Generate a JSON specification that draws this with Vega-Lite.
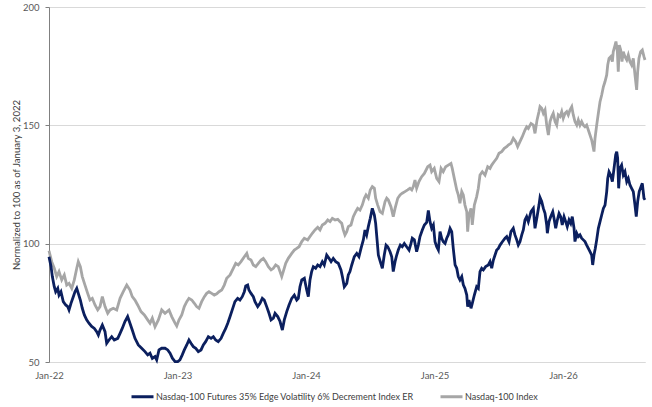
{
  "$schema": "https://vega.github.io/schema/vega-lite/v6.json",
  "width": 596,
  "height": 355,
  "autosize": "none",
  "padding": {"left": 49, "top": 7, "right": 7, "bottom": 45},
  "background": "white",
  "config": {"font": "Lato", "view": {"stroke": null}},
  "datasets": {
    "edge": [
      {"year":2022.000,"value":94.5},{"year":2022.016,"value":90.3},{"year":2022.026,"value":86.1},{"year":2022.041,"value":81.8},{"year":2022.052,"value":79.7},{"year":2022.068,"value":81.1},{"year":2022.078,"value":78.3},{"year":2022.093,"value":79.7},{"year":2022.111,"value":75.5},{"year":2022.130,"value":74.1},{"year":2022.146,"value":73.4},{"year":2022.156,"value":72.0},{"year":2022.171,"value":74.8},{"year":2022.189,"value":77.6},{"year":2022.202,"value":79.7},{"year":2022.216,"value":81.1},{"year":2022.228,"value":79.0},{"year":2022.244,"value":76.2},{"year":2022.259,"value":72.7},{"year":2022.275,"value":69.9},{"year":2022.293,"value":67.8},{"year":2022.311,"value":66.4},{"year":2022.332,"value":65.0},{"year":2022.353,"value":64.2},{"year":2022.371,"value":62.8},{"year":2022.384,"value":61.4},{"year":2022.397,"value":63.5},{"year":2022.415,"value":65.6},{"year":2022.436,"value":62.8},{"year":2022.449,"value":57.9},{"year":2022.467,"value":59.3},{"year":2022.488,"value":60.7},{"year":2022.508,"value":59.3},{"year":2022.535,"value":60.0},{"year":2022.553,"value":62.1},{"year":2022.570,"value":64.2},{"year":2022.591,"value":67.1},{"year":2022.612,"value":69.2},{"year":2022.630,"value":66.4},{"year":2022.648,"value":63.5},{"year":2022.669,"value":60.0},{"year":2022.695,"value":57.2},{"year":2022.721,"value":55.8},{"year":2022.747,"value":54.4},{"year":2022.768,"value":53.0},{"year":2022.786,"value":53.7},{"year":2022.804,"value":51.5},{"year":2022.825,"value":52.3},{"year":2022.838,"value":50.9},{"year":2022.856,"value":55.1},{"year":2022.877,"value":55.8},{"year":2022.903,"value":55.8},{"year":2022.924,"value":55.1},{"year":2022.942,"value":53.7},{"year":2022.960,"value":51.6},{"year":2022.981,"value":50.2},
      {"year":2023.002,"value":50.2},{"year":2023.019,"value":50.9},{"year":2023.037,"value":53.0},{"year":2023.053,"value":55.1},{"year":2023.072,"value":57.2},{"year":2023.089,"value":59.3},{"year":2023.105,"value":57.9},{"year":2023.123,"value":56.5},{"year":2023.142,"value":55.8},{"year":2023.162,"value":54.4},{"year":2023.183,"value":55.1},{"year":2023.201,"value":57.2},{"year":2023.219,"value":58.6},{"year":2023.240,"value":60.7},{"year":2023.261,"value":60.0},{"year":2023.279,"value":60.7},{"year":2023.297,"value":59.3},{"year":2023.317,"value":58.6},{"year":2023.339,"value":60.0},{"year":2023.356,"value":62.1},{"year":2023.375,"value":64.2},{"year":2023.391,"value":66.4},{"year":2023.409,"value":69.2},{"year":2023.426,"value":72.0},{"year":2023.447,"value":75.5},{"year":2023.468,"value":76.9},{"year":2023.486,"value":76.2},{"year":2023.504,"value":77.6},{"year":2023.520,"value":79.7},{"year":2023.531,"value":82.1},{"year":2023.546,"value":82.5},{"year":2023.556,"value":80.4},{"year":2023.572,"value":79.0},{"year":2023.590,"value":77.6},{"year":2023.603,"value":75.5},{"year":2023.624,"value":73.4},{"year":2023.642,"value":74.8},{"year":2023.660,"value":76.9},{"year":2023.675,"value":76.2},{"year":2023.694,"value":73.4},{"year":2023.712,"value":70.6},{"year":2023.728,"value":67.8},{"year":2023.746,"value":68.5},{"year":2023.759,"value":70.6},{"year":2023.780,"value":69.2},{"year":2023.798,"value":67.1},{"year":2023.816,"value":63.5},{"year":2023.831,"value":67.8},{"year":2023.850,"value":71.3},{"year":2023.868,"value":74.1},{"year":2023.889,"value":76.9},{"year":2023.909,"value":78.3},{"year":2023.928,"value":76.2},{"year":2023.940,"value":76.9},{"year":2023.953,"value":81.8},{"year":2023.967,"value":84.7},{"year":2023.987,"value":85.4},
      {"year":2024.005,"value":80.5},{"year":2024.018,"value":77.6},{"year":2024.031,"value":84.7},{"year":2024.044,"value":88.2},{"year":2024.057,"value":90.3},{"year":2024.075,"value":89.6},{"year":2024.091,"value":91.0},{"year":2024.109,"value":90.3},{"year":2024.127,"value":92.4},{"year":2024.142,"value":91.0},{"year":2024.161,"value":95.2},{"year":2024.179,"value":93.8},{"year":2024.195,"value":92.4},{"year":2024.212,"value":93.8},{"year":2024.231,"value":92.4},{"year":2024.251,"value":91.7},{"year":2024.272,"value":88.9},{"year":2024.283,"value":86.1},{"year":2024.298,"value":81.8},{"year":2024.317,"value":83.2},{"year":2024.329,"value":86.8},{"year":2024.342,"value":88.2},{"year":2024.356,"value":91.0},{"year":2024.376,"value":94.5},{"year":2024.395,"value":95.9},{"year":2024.412,"value":94.5},{"year":2024.428,"value":98.0},{"year":2024.446,"value":101.6},{"year":2024.459,"value":105.8},{"year":2024.472,"value":103.7},{"year":2024.485,"value":107.2},{"year":2024.500,"value":110.7},{"year":2024.516,"value":114.9},{"year":2024.532,"value":112.1},{"year":2024.542,"value":108.6},{"year":2024.553,"value":101.6},{"year":2024.563,"value":95.2},{"year":2024.578,"value":92.4},{"year":2024.594,"value":89.6},{"year":2024.609,"value":95.2},{"year":2024.623,"value":99.4},{"year":2024.636,"value":98.7},{"year":2024.654,"value":96.6},{"year":2024.667,"value":94.5},{"year":2024.679,"value":88.2},{"year":2024.693,"value":92.4},{"year":2024.706,"value":95.2},{"year":2024.718,"value":97.3},{"year":2024.734,"value":99.4},{"year":2024.749,"value":98.7},{"year":2024.765,"value":100.1},{"year":2024.783,"value":98.7},{"year":2024.802,"value":97.3},{"year":2024.817,"value":100.1},{"year":2024.827,"value":102.3},{"year":2024.843,"value":101.6},{"year":2024.861,"value":96.6},{"year":2024.874,"value":99.4},{"year":2024.887,"value":103.0},{"year":2024.905,"value":105.8},{"year":2024.921,"value":107.9},{"year":2024.939,"value":109.0},{"year":2024.952,"value":114.0},{"year":2024.965,"value":109.3},{"year":2024.978,"value":106.5},{"year":2024.991,"value":107.9},
      {"year":2025.004,"value":100.8},{"year":2025.017,"value":98.7},{"year":2025.030,"value":97.3},{"year":2025.043,"value":105.1},{"year":2025.056,"value":102.3},{"year":2025.068,"value":100.8},{"year":2025.082,"value":100.1},{"year":2025.095,"value":102.3},{"year":2025.107,"value":103.7},{"year":2025.121,"value":106.5},{"year":2025.134,"value":105.1},{"year":2025.146,"value":98.0},{"year":2025.160,"value":91.0},{"year":2025.173,"value":89.6},{"year":2025.185,"value":86.1},{"year":2025.198,"value":84.7},{"year":2025.212,"value":86.1},{"year":2025.224,"value":82.6},{"year":2025.237,"value":81.1},{"year":2025.251,"value":78.3},{"year":2025.258,"value":73.4},{"year":2025.268,"value":76.2},{"year":2025.284,"value":72.7},{"year":2025.294,"value":74.8},{"year":2025.310,"value":78.3},{"year":2025.328,"value":81.8},{"year":2025.341,"value":81.1},{"year":2025.354,"value":88.2},{"year":2025.367,"value":89.6},{"year":2025.380,"value":88.9},{"year":2025.398,"value":90.3},{"year":2025.419,"value":91.0},{"year":2025.432,"value":92.4},{"year":2025.445,"value":89.6},{"year":2025.458,"value":93.1},{"year":2025.471,"value":95.2},{"year":2025.484,"value":97.3},{"year":2025.497,"value":98.0},{"year":2025.510,"value":99.4},{"year":2025.528,"value":100.8},{"year":2025.549,"value":102.3},{"year":2025.562,"value":103.0},{"year":2025.580,"value":100.8},{"year":2025.595,"value":105.1},{"year":2025.613,"value":106.5},{"year":2025.626,"value":103.7},{"year":2025.640,"value":101.6},{"year":2025.652,"value":99.4},{"year":2025.665,"value":100.8},{"year":2025.679,"value":103.7},{"year":2025.691,"value":105.8},{"year":2025.704,"value":110.0},{"year":2025.717,"value":111.4},{"year":2025.730,"value":109.3},{"year":2025.751,"value":113.5},{"year":2025.769,"value":114.9},{"year":2025.782,"value":106.5},{"year":2025.798,"value":111.4},{"year":2025.813,"value":116.3},{"year":2025.821,"value":119.5},{"year":2025.834,"value":117.8},{"year":2025.847,"value":114.9},{"year":2025.860,"value":112.8},{"year":2025.873,"value":107.9},{"year":2025.878,"value":104.4},{"year":2025.891,"value":109.3},{"year":2025.904,"value":111.4},{"year":2025.920,"value":113.5},{"year":2025.930,"value":110.7},{"year":2025.943,"value":106.5},{"year":2025.956,"value":110.0},{"year":2025.969,"value":112.8},{"year":2025.982,"value":111.4},{"year":2025.994,"value":107.9},
      {"year":2026.008,"value":111.4},{"year":2026.021,"value":109.3},{"year":2026.033,"value":107.2},{"year":2026.047,"value":110.0},{"year":2026.060,"value":108.6},{"year":2026.072,"value":111.4},{"year":2026.086,"value":106.5},{"year":2026.093,"value":100.9},{"year":2026.107,"value":104.4},{"year":2026.119,"value":103.0},{"year":2026.132,"value":103.7},{"year":2026.145,"value":102.3},{"year":2026.158,"value":101.6},{"year":2026.171,"value":100.9},{"year":2026.184,"value":99.4},{"year":2026.197,"value":98.0},{"year":2026.210,"value":96.6},{"year":2026.223,"value":95.2},{"year":2026.231,"value":91.0},{"year":2026.241,"value":95.2},{"year":2026.251,"value":98.0},{"year":2026.262,"value":101.6},{"year":2026.275,"value":106.5},{"year":2026.288,"value":109.3},{"year":2026.301,"value":112.1},{"year":2026.314,"value":114.9},{"year":2026.327,"value":116.3},{"year":2026.340,"value":122.0},{"year":2026.348,"value":127.6},{"year":2026.358,"value":130.4},{"year":2026.371,"value":129.0},{"year":2026.384,"value":126.2},{"year":2026.397,"value":131.8},{"year":2026.410,"value":137.5},{"year":2026.418,"value":138.9},{"year":2026.425,"value":136.1},{"year":2026.433,"value":123.4},{"year":2026.443,"value":131.8},{"year":2026.456,"value":133.2},{"year":2026.469,"value":129.0},{"year":2026.482,"value":130.4},{"year":2026.496,"value":126.2},{"year":2026.508,"value":127.6},{"year":2026.521,"value":124.8},{"year":2026.534,"value":123.4},{"year":2026.547,"value":122.0},{"year":2026.560,"value":116.3},{"year":2026.570,"value":111.4},{"year":2026.581,"value":117.8},{"year":2026.593,"value":122.0},{"year":2026.607,"value":124.1},{"year":2026.617,"value":125.5},{"year":2026.630,"value":119.2},{"year":2026.638,"value":118.5}
    ],
    "ndx": [
      {"year":2022.000,"value":97.0},{"year":2022.021,"value":92.4},{"year":2022.041,"value":89.6},{"year":2022.060,"value":86.1},{"year":2022.078,"value":88.2},{"year":2022.099,"value":84.7},{"year":2022.119,"value":86.8},{"year":2022.138,"value":82.5},{"year":2022.156,"value":83.2},{"year":2022.177,"value":81.1},{"year":2022.197,"value":84.7},{"year":2022.216,"value":89.6},{"year":2022.228,"value":92.4},{"year":2022.244,"value":90.3},{"year":2022.259,"value":86.1},{"year":2022.280,"value":82.5},{"year":2022.301,"value":79.0},{"year":2022.319,"value":76.2},{"year":2022.337,"value":76.9},{"year":2022.358,"value":74.1},{"year":2022.379,"value":72.0},{"year":2022.397,"value":73.4},{"year":2022.415,"value":77.6},{"year":2022.436,"value":73.4},{"year":2022.457,"value":70.6},{"year":2022.475,"value":72.0},{"year":2022.500,"value":72.7},{"year":2022.527,"value":72.0},{"year":2022.553,"value":76.9},{"year":2022.578,"value":79.7},{"year":2022.605,"value":82.5},{"year":2022.630,"value":80.4},{"year":2022.648,"value":77.6},{"year":2022.669,"value":76.2},{"year":2022.690,"value":74.1},{"year":2022.716,"value":71.3},{"year":2022.742,"value":69.9},{"year":2022.768,"value":67.8},{"year":2022.786,"value":66.4},{"year":2022.804,"value":68.5},{"year":2022.825,"value":64.9},{"year":2022.851,"value":67.8},{"year":2022.877,"value":72.0},{"year":2022.903,"value":70.6},{"year":2022.934,"value":72.0},{"year":2022.955,"value":69.2},{"year":2022.981,"value":66.4},{"year":2022.994,"value":65.2},
      {"year":2023.012,"value":67.8},{"year":2023.033,"value":69.9},{"year":2023.053,"value":73.4},{"year":2023.072,"value":75.5},{"year":2023.089,"value":76.9},{"year":2023.111,"value":76.2},{"year":2023.131,"value":74.8},{"year":2023.149,"value":73.4},{"year":2023.167,"value":72.7},{"year":2023.188,"value":75.5},{"year":2023.209,"value":77.6},{"year":2023.227,"value":79.0},{"year":2023.245,"value":79.7},{"year":2023.266,"value":79.0},{"year":2023.286,"value":78.3},{"year":2023.305,"value":78.8},{"year":2023.323,"value":79.7},{"year":2023.344,"value":80.4},{"year":2023.364,"value":82.5},{"year":2023.383,"value":85.4},{"year":2023.409,"value":86.8},{"year":2023.434,"value":89.6},{"year":2023.453,"value":91.7},{"year":2023.473,"value":91.0},{"year":2023.494,"value":92.4},{"year":2023.520,"value":94.5},{"year":2023.539,"value":95.9},{"year":2023.551,"value":93.8},{"year":2023.572,"value":93.1},{"year":2023.590,"value":91.0},{"year":2023.609,"value":90.3},{"year":2023.629,"value":91.7},{"year":2023.650,"value":93.1},{"year":2023.668,"value":93.8},{"year":2023.686,"value":92.4},{"year":2023.707,"value":90.3},{"year":2023.728,"value":88.9},{"year":2023.746,"value":89.6},{"year":2023.764,"value":91.0},{"year":2023.784,"value":90.3},{"year":2023.811,"value":86.1},{"year":2023.823,"value":88.2},{"year":2023.842,"value":91.7},{"year":2023.862,"value":93.8},{"year":2023.889,"value":95.9},{"year":2023.909,"value":97.3},{"year":2023.928,"value":98.0},{"year":2023.946,"value":98.7},{"year":2023.967,"value":100.9},{"year":2023.987,"value":102.3},
      {"year":2024.013,"value":101.6},{"year":2024.031,"value":103.0},{"year":2024.049,"value":104.4},{"year":2024.070,"value":105.8},{"year":2024.091,"value":106.9},{"year":2024.109,"value":105.8},{"year":2024.127,"value":107.9},{"year":2024.148,"value":108.6},{"year":2024.169,"value":110.0},{"year":2024.187,"value":109.3},{"year":2024.205,"value":110.7},{"year":2024.226,"value":110.0},{"year":2024.247,"value":110.3},{"year":2024.265,"value":109.3},{"year":2024.278,"value":108.6},{"year":2024.290,"value":105.8},{"year":2024.303,"value":103.7},{"year":2024.317,"value":105.1},{"year":2024.329,"value":107.2},{"year":2024.350,"value":107.9},{"year":2024.368,"value":111.4},{"year":2024.387,"value":113.5},{"year":2024.402,"value":114.9},{"year":2024.420,"value":114.2},{"year":2024.438,"value":116.3},{"year":2024.454,"value":119.2},{"year":2024.467,"value":120.6},{"year":2024.485,"value":119.2},{"year":2024.500,"value":122.7},{"year":2024.516,"value":124.1},{"year":2024.532,"value":123.4},{"year":2024.542,"value":119.2},{"year":2024.558,"value":116.3},{"year":2024.576,"value":113.5},{"year":2024.594,"value":112.8},{"year":2024.615,"value":117.7},{"year":2024.628,"value":119.2},{"year":2024.640,"value":118.5},{"year":2024.661,"value":115.6},{"year":2024.679,"value":111.4},{"year":2024.693,"value":114.9},{"year":2024.714,"value":119.2},{"year":2024.732,"value":120.6},{"year":2024.749,"value":121.3},{"year":2024.770,"value":122.0},{"year":2024.791,"value":122.7},{"year":2024.809,"value":123.4},{"year":2024.823,"value":122.7},{"year":2024.835,"value":124.1},{"year":2024.848,"value":126.9},{"year":2024.861,"value":123.4},{"year":2024.879,"value":126.2},{"year":2024.900,"value":128.3},{"year":2024.921,"value":129.7},{"year":2024.947,"value":132.5},{"year":2024.965,"value":133.2},{"year":2024.978,"value":130.4},{"year":2024.998,"value":131.8},
      {"year":2025.017,"value":127.6},{"year":2025.035,"value":126.2},{"year":2025.051,"value":131.8},{"year":2025.068,"value":130.4},{"year":2025.087,"value":132.5},{"year":2025.107,"value":133.2},{"year":2025.128,"value":133.9},{"year":2025.138,"value":131.8},{"year":2025.154,"value":127.6},{"year":2025.173,"value":122.7},{"year":2025.185,"value":120.6},{"year":2025.198,"value":117.1},{"year":2025.212,"value":122.0},{"year":2025.224,"value":120.6},{"year":2025.237,"value":116.3},{"year":2025.251,"value":113.5},{"year":2025.258,"value":105.1},{"year":2025.268,"value":112.1},{"year":2025.284,"value":114.9},{"year":2025.294,"value":107.9},{"year":2025.310,"value":116.3},{"year":2025.328,"value":119.9},{"year":2025.341,"value":123.4},{"year":2025.354,"value":129.0},{"year":2025.372,"value":130.4},{"year":2025.393,"value":129.0},{"year":2025.414,"value":132.5},{"year":2025.432,"value":131.8},{"year":2025.445,"value":133.2},{"year":2025.465,"value":134.7},{"year":2025.484,"value":136.1},{"year":2025.502,"value":138.2},{"year":2025.523,"value":138.9},{"year":2025.543,"value":140.3},{"year":2025.562,"value":141.0},{"year":2025.574,"value":141.7},{"year":2025.595,"value":142.4},{"year":2025.613,"value":144.5},{"year":2025.632,"value":143.1},{"year":2025.647,"value":141.0},{"year":2025.665,"value":143.1},{"year":2025.683,"value":145.2},{"year":2025.704,"value":148.0},{"year":2025.717,"value":149.4},{"year":2025.730,"value":148.7},{"year":2025.751,"value":150.8},{"year":2025.769,"value":150.1},{"year":2025.782,"value":146.6},{"year":2025.798,"value":152.3},{"year":2025.813,"value":155.8},{"year":2025.821,"value":157.9},{"year":2025.834,"value":157.2},{"year":2025.847,"value":155.1},{"year":2025.860,"value":156.5},{"year":2025.873,"value":150.1},{"year":2025.886,"value":145.9},{"year":2025.899,"value":151.6},{"year":2025.912,"value":153.7},{"year":2025.924,"value":155.1},{"year":2025.938,"value":151.6},{"year":2025.951,"value":150.1},{"year":2025.963,"value":154.4},{"year":2025.977,"value":153.7},{"year":2025.990,"value":155.8},
      {"year":2026.002,"value":153.0},{"year":2026.016,"value":155.1},{"year":2026.029,"value":155.8},{"year":2026.041,"value":154.4},{"year":2026.054,"value":156.5},{"year":2026.068,"value":157.9},{"year":2026.080,"value":154.4},{"year":2026.093,"value":151.6},{"year":2026.107,"value":150.1},{"year":2026.119,"value":152.3},{"year":2026.132,"value":150.1},{"year":2026.145,"value":151.6},{"year":2026.158,"value":150.1},{"year":2026.171,"value":149.4},{"year":2026.184,"value":150.1},{"year":2026.197,"value":148.0},{"year":2026.210,"value":145.9},{"year":2026.223,"value":143.8},{"year":2026.231,"value":141.7},{"year":2026.241,"value":138.9},{"year":2026.249,"value":144.5},{"year":2026.262,"value":150.1},{"year":2026.275,"value":155.1},{"year":2026.288,"value":160.0},{"year":2026.301,"value":162.8},{"year":2026.314,"value":166.3},{"year":2026.327,"value":168.5},{"year":2026.340,"value":171.3},{"year":2026.348,"value":175.5},{"year":2026.358,"value":178.3},{"year":2026.371,"value":179.0},{"year":2026.384,"value":176.9},{"year":2026.391,"value":181.1},{"year":2026.405,"value":183.9},{"year":2026.412,"value":185.4},{"year":2026.423,"value":181.1},{"year":2026.430,"value":172.7},{"year":2026.438,"value":183.9},{"year":2026.449,"value":181.8},{"year":2026.459,"value":176.9},{"year":2026.469,"value":181.1},{"year":2026.482,"value":179.0},{"year":2026.496,"value":177.6},{"year":2026.508,"value":179.7},{"year":2026.521,"value":176.9},{"year":2026.534,"value":175.5},{"year":2026.547,"value":178.3},{"year":2026.560,"value":171.3},{"year":2026.573,"value":165.0},{"year":2026.581,"value":172.7},{"year":2026.591,"value":178.3},{"year":2026.604,"value":181.1},{"year":2026.617,"value":181.8},{"year":2026.630,"value":179.0},{"year":2026.638,"value":177.6}
    ]
  },
  "encoding": {
    "x": {
      "field": "year",
      "type": "quantitative",
      "scale": {"domain": [2022, 2026.638], "nice": false, "zero": false},
      "axis": {
        "values": [2022, 2023, 2024, 2025, 2026],
        "labelExpr": "'Jan-' + substring(toString(datum.value), 2, 4)",
        "title": null,
        "grid": false,
        "ticks": false,
        "domainColor": "#d9d9d9",
        "labelColor": "#595959",
        "labelFontSize": 9.5,
        "labelPadding": 8,
        "labelFlush": false
      }
    },
    "y": {
      "field": "value",
      "type": "quantitative",
      "scale": {"domain": [50, 200], "nice": false, "zero": false},
      "axis": {
        "values": [50, 100, 150, 200],
        "title": "Normalized to 100 as of January 3, 2022",
        "grid": true,
        "gridColor": "#d9d9d9",
        "domainColor": "#808080",
        "tickColor": "#808080",
        "tickSize": 4,
        "labelPadding": 6,
        "labelColor": "#595959",
        "labelFontSize": 9.5,
        "titleFontSize": 9.6,
        "titleFontWeight": "normal",
        "titleColor": "#404040",
        "titlePadding": 1
      }
    }
  },
  "layer": [
    {
      "data": {"name": "ndx"},
      "mark": {"type": "line", "strokeWidth": 2.8},
      "encoding": {
        "color": {
          "datum": "Nasdaq-100 Index",
          "type": "nominal",
          "scale": {
            "domain": ["Nasdaq-100 Futures 35% Edge Volatility 6% Decrement Index ER", "Nasdaq-100 Index"],
            "range": ["#0b1f5e", "#a6a6a6"]
          },
          "legend": {
            "orient": "none",
            "legendX": 81,
            "legendY": 377,
            "direction": "horizontal",
            "title": null,
            "symbolType": "stroke",
            "symbolStrokeWidth": 3,
            "symbolSize": 484,
            "labelFontSize": 9,
            "labelColor": "#404040",
            "labelLimit": 400,
            "labelOffset": 1,
            "columnPadding": 20
          }
        }
      }
    },
    {
      "data": {"name": "edge"},
      "mark": {"type": "line", "strokeWidth": 2.8},
      "encoding": {
        "color": {"datum": "Nasdaq-100 Futures 35% Edge Volatility 6% Decrement Index ER", "type": "nominal"}
      }
    }
  ]
}
